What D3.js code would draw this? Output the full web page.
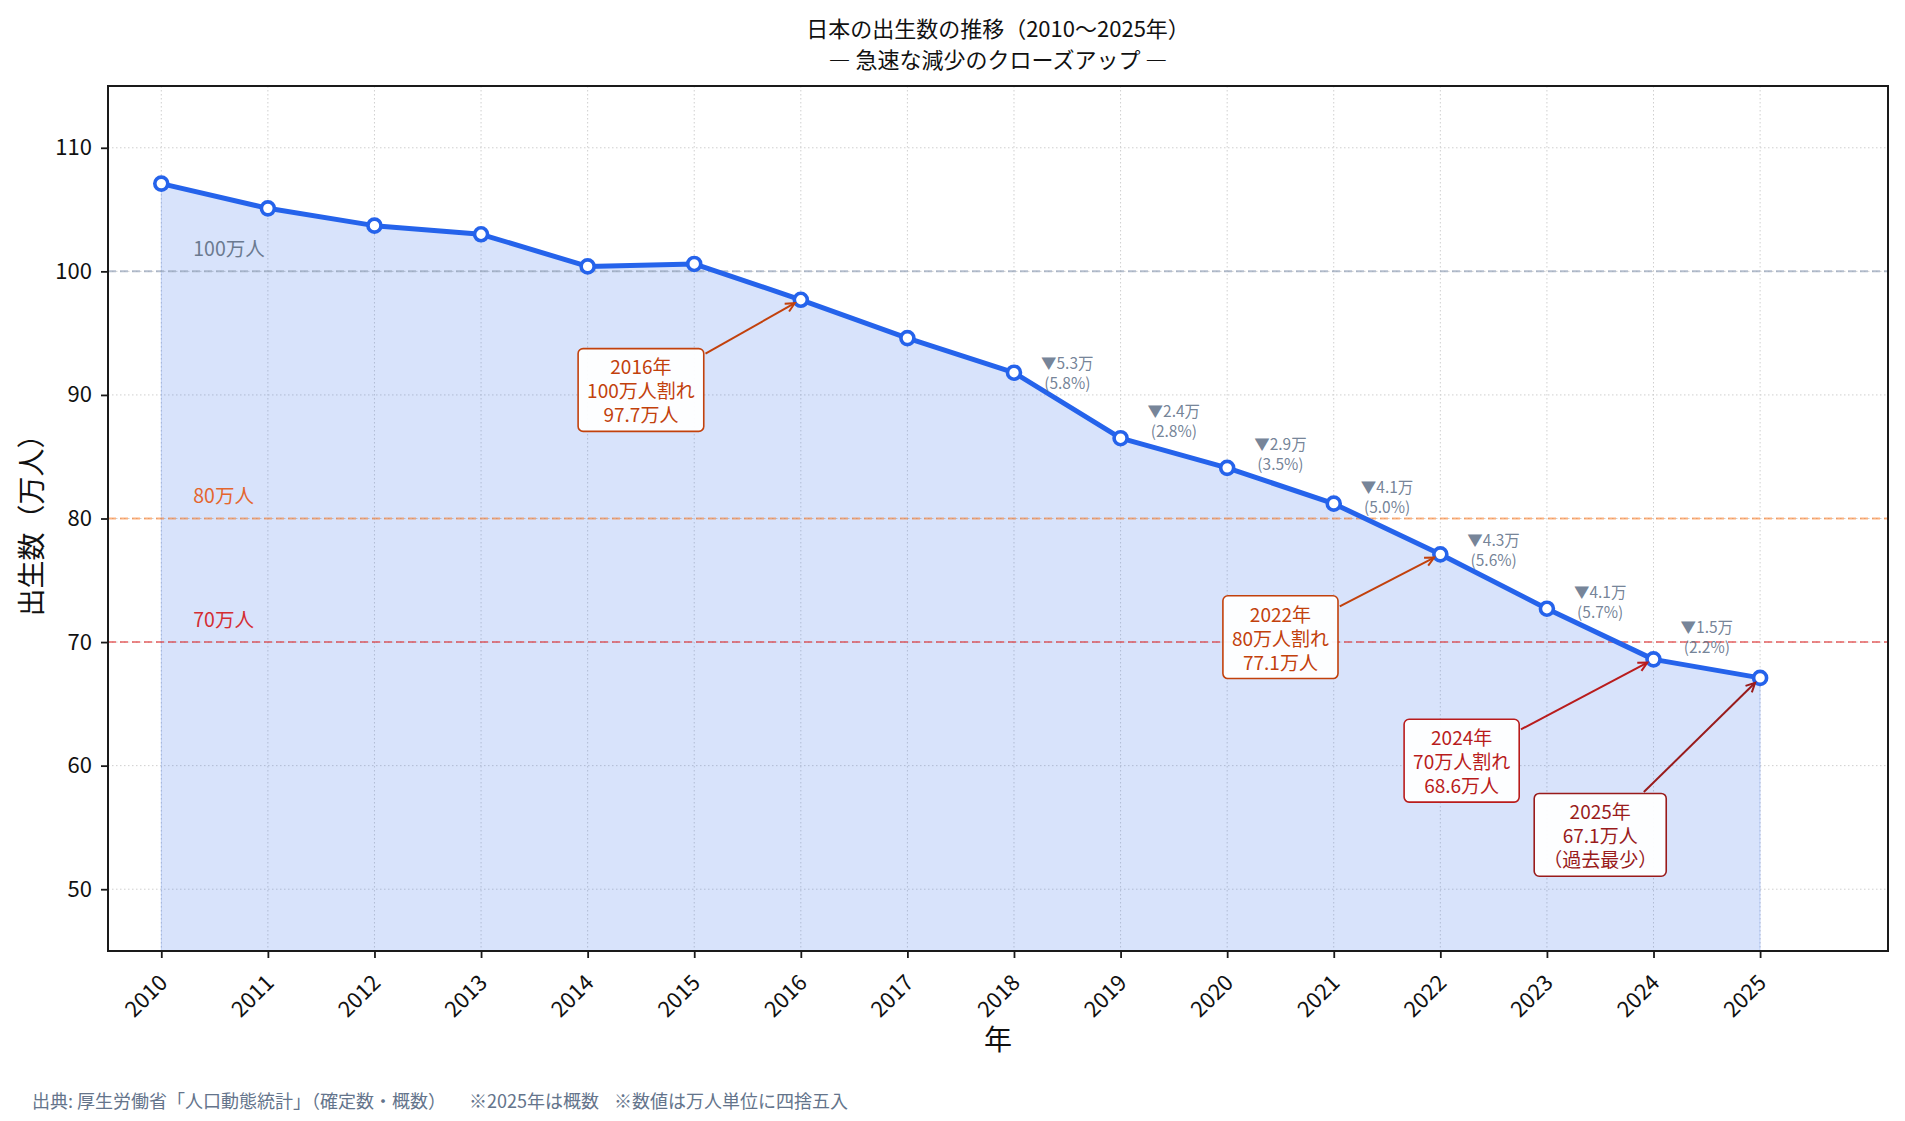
<!DOCTYPE html>
<html>
<head>
<meta charset="utf-8">
<script src="https://cdn.jsdelivr.net/npm/d3@7"></script>
<style>
  body { margin: 0; background: #fff; }
  svg { display: block; font-family: "Noto Sans CJK JP", "Noto Sans", sans-serif; }
</style>
</head>
<body>
<div id="chart"></div>
<script>
// ---- data (万人) ----
const years = [2010, 2011, 2012, 2013, 2014, 2015, 2016, 2017, 2018, 2019, 2020, 2021, 2022, 2023, 2024, 2025];
const births = [107.1, 105.1, 103.7, 103.0, 100.4, 100.6, 97.7, 94.6, 91.8, 86.5, 84.1, 81.2, 77.1, 72.7, 68.6, 67.1];
const yTicks = [50, 60, 70, 80, 90, 100, 110];

// reference thresholds
const refValues = [100, 80, 70];
const refLabels = ['100万人', '80万人', '70万人'];

// year-over-year drop labels (segment start year)
const dropYears = [2018, 2019, 2020, 2021, 2022, 2023, 2024];
const dropAmounts = ['5.3', '2.4', '2.9', '4.1', '4.3', '4.1', '1.5'];
const dropRates = ['5.8', '2.8', '3.5', '5.0', '5.6', '5.7', '2.2'];

// callouts
const calloutYears = [2016, 2022, 2024, 2025];
const calloutLines = [
    ['2016年', '100万人割れ', '97.7万人'],
    ['2022年', '80万人割れ', '77.1万人'],
    ['2024年', '70万人割れ', '68.6万人'],
    ['2025年', '67.1万人', '（過去最少）']
];

const titleLines = ['日本の出生数の推移（2010〜2025年）', '― 急速な減少のクローズアップ ―'];
const sourceNotes = ['出典: 厚生労働省「人口動態統計」（確定数・概数）', '※2025年は概数', '※数値は万人単位に四捨五入'];

// ---- styling / placement ----
const refColors = ['#94a3b8', '#f97316', '#dc2626'];
const refLabelColors = ['#6b7a90', '#e4662e', '#d42d33'];
const calloutColors = ['#c2410c', '#c2410c', '#b91c1c', '#991b1b'];
// text-box centre in data coordinates [year, value]
const calloutPos = [[2014.5, 90.4], [2020.5, 70.4], [2022.2, 60.4], [2023.5, 54.4]];
// x start of each source-note piece
const sourceNoteX = [32, 469, 614];

class BirthChart {
    constructor(_config) {
        this.config = {
            parentElement: _config.parentElement,
            containerWidth: 1905,
            containerHeight: 1121,
            margin: {top: 86, right: 17, bottom: 170, left: 108}
        };
        this.initVis();
    }

    initVis() {
        let vis = this;
        const m = vis.config.margin;
        vis.width = vis.config.containerWidth - m.left - m.right;
        vis.height = vis.config.containerHeight - m.top - m.bottom;

        vis.svg = d3.select(vis.config.parentElement).append('svg')
            .attr('width', vis.config.containerWidth)
            .attr('height', vis.config.containerHeight);

        vis.chart = vis.svg.append('g')
            .attr('transform', `translate(${m.left},${m.top})`);

        vis.xScale = d3.scaleLinear().domain([2009.5, 2026.2]).range([0, vis.width]);
        vis.yScale = d3.scaleLinear().domain([45, 115]).range([vis.height, 0]);

        vis.defs = vis.svg.append('defs');
        vis.defs.append('clipPath').attr('id', 'plot-clip')
            .append('rect').attr('width', vis.width).attr('height', vis.height);

        // arrow heads, one per colour
        Array.from(new Set(calloutColors)).forEach(c => {
            vis.defs.append('marker')
                .attr('id', 'arrow-' + c.slice(1))
                .attr('markerUnits', 'userSpaceOnUse')
                .attr('viewBox', '-12 -7 14 14')
                .attr('refX', 0).attr('refY', 0)
                .attr('markerWidth', 14).attr('markerHeight', 14)
                .attr('orient', 'auto')
                .append('path')
                .attr('d', 'M-9,-4.5 L0,0 L-9,4.5')
                .attr('fill', 'none')
                .attr('stroke', c)
                .attr('stroke-width', 2);
        });

        vis.renderVis();
    }

    renderVis() {
        let vis = this;
        const x = vis.xScale, y = vis.yScale;

        // grid
        const grid = vis.chart.append('g').attr('class', 'grid');
        grid.selectAll('.gx').data(years).join('line')
            .attr('x1', d => x(d)).attr('x2', d => x(d))
            .attr('y1', 0).attr('y2', vis.height)
            .attr('stroke', '#cfcfcf').attr('stroke-width', 1)
            .attr('stroke-dasharray', '1.5,2.5');
        grid.selectAll('.gy').data(yTicks).join('line')
            .attr('x1', 0).attr('x2', vis.width)
            .attr('y1', d => y(d)).attr('y2', d => y(d))
            .attr('stroke', '#cfcfcf').attr('stroke-width', 1)
            .attr('stroke-dasharray', '1.5,2.5');

        const series = years.map((yr, i) => ({year: yr, value: births[i]}));

        // area fill down to the bottom of the axis
        const area = d3.area()
            .x(d => x(d.year))
            .y0(y(45))
            .y1(d => y(d.value));
        vis.chart.append('path')
            .datum(series)
            .attr('d', area)
            .attr('fill', '#2563eb')
            .attr('fill-opacity', 0.18)
            .attr('stroke', '#2563eb')
            .attr('stroke-opacity', 0.2)
            .attr('stroke-width', 1);

        // threshold lines
        const refs = vis.chart.append('g').attr('clip-path', 'url(#plot-clip)');
        refs.selectAll('line').data(refValues).join('line')
            .attr('x1', 0).attr('x2', vis.width)
            .attr('y1', d => y(d)).attr('y2', d => y(d))
            .attr('stroke', (d, i) => refColors[i])
            .attr('stroke-opacity', (d, i) => i === 0 ? 0.7 : 0.55)
            .attr('stroke-width', 2)
            .attr('stroke-dasharray', '8,4');
        vis.chart.selectAll('.ref-label').data(refValues).join('text')
            .attr('class', 'ref-label')
            .attr('x', x(2010.3))
            .attr('y', d => y(d) - 24)
            .attr('dominant-baseline', 'central')
            .attr('font-size', 19.5)
            .attr('fill', (d, i) => refLabelColors[i])
            .text((d, i) => refLabels[i]);

        // main line + markers
        const line = d3.line().x(d => x(d.year)).y(d => y(d.value));
        vis.chart.append('path')
            .datum(series)
            .attr('d', line)
            .attr('fill', 'none')
            .attr('stroke', '#2563eb')
            .attr('stroke-width', 5)
            .attr('stroke-linejoin', 'round');
        vis.chart.selectAll('.pt').data(series).join('circle')
            .attr('class', 'pt')
            .attr('cx', d => x(d.year))
            .attr('cy', d => y(d.value))
            .attr('r', 6.5)
            .attr('fill', '#fff')
            .attr('stroke', '#2563eb')
            .attr('stroke-width', 3.6);

        // drop labels at segment midpoints
        const drops = vis.chart.append('g').attr('class', 'drops');
        dropYears.forEach((yr, i) => {
            const j = years.indexOf(yr);
            const mx = (x(years[j]) + x(years[j + 1])) / 2;
            const my = (y(births[j]) + y(births[j + 1])) / 2 - 33;
            const t = drops.append('text')
                .attr('text-anchor', 'middle')
                .attr('font-size', 15.5)
                .attr('fill', '#64748b')
                .attr('fill-opacity', 0.9);
            t.append('tspan').attr('x', mx).attr('y', my - 10)
                .attr('dominant-baseline', 'central')
                .text('▼' + dropAmounts[i] + '万');
            t.append('tspan').attr('x', mx).attr('y', my + 10)
                .attr('dominant-baseline', 'central')
                .text('(' + dropRates[i] + '%)');
        });

        // callouts with arrows
        const fs = 19, lh = 24, padX = 9, padY = 6;
        calloutYears.forEach((yr, i) => {
            const g = vis.chart.append('g');
            const c = calloutColors[i];
            const cx = x(calloutPos[i][0]), cy = y(calloutPos[i][1]);
            const n = calloutLines[i].length;
            const txt = g.append('text')
                .attr('text-anchor', 'middle')
                .attr('font-size', fs)
                .attr('fill', c);
            calloutLines[i].forEach((s, k) => {
                txt.append('tspan')
                    .attr('x', cx)
                    .attr('y', cy + (k - (n - 1) / 2) * lh)
                    .attr('dominant-baseline', 'central')
                    .text(s);
            });
            let maxW = 0;
            txt.selectAll('tspan').each(function () {
                maxW = Math.max(maxW, this.getComputedTextLength());
            });
            const bw = maxW + 2 * padX;
            const bh = (n - 1) * lh + fs * 1.2 + 2 * padY;
            g.insert('rect', 'text')
                .attr('x', cx - bw / 2).attr('y', cy - bh / 2)
                .attr('width', bw).attr('height', bh)
                .attr('rx', 5).attr('ry', 5)
                .attr('fill', '#fff')
                .attr('fill-opacity', 0.95)
                .attr('stroke', c)
                .attr('stroke-width', 1.6);

            // arrow from box edge to the point
            const j = years.indexOf(yr);
            const tx = x(yr), ty = y(births[j]);
            const dx = tx - cx, dy = ty - cy;
            const len = Math.hypot(dx, dy);
            const tEdge = Math.min((bw / 2) / Math.abs(dx), (bh / 2) / Math.abs(dy));
            const sx = cx + dx * tEdge + dx / len * 2;
            const sy = cy + dy * tEdge + dy / len * 2;
            const ex = tx - dx / len * 7;
            const ey = ty - dy / len * 7;
            g.append('line')
                .attr('x1', sx).attr('y1', sy)
                .attr('x2', ex).attr('y2', ey)
                .attr('stroke', c)
                .attr('stroke-width', 2)
                .attr('marker-end', `url(#arrow-${c.slice(1)})`);
        });

        // frame
        vis.chart.append('rect')
            .attr('width', vis.width).attr('height', vis.height)
            .attr('fill', 'none')
            .attr('stroke', '#1a1a1a')
            .attr('stroke-width', 2);

        // axes
        const xAxisG = vis.chart.append('g')
            .attr('transform', `translate(0,${vis.height})`)
            .call(d3.axisBottom(x).tickValues(years).tickFormat(d3.format('d')).tickSize(7).tickPadding(0));
        xAxisG.select('.domain').remove();
        xAxisG.selectAll('.tick line').attr('stroke', '#1a1a1a').attr('stroke-width', 1.8);
        xAxisG.selectAll('.tick text')
            .attr('font-family', '"Noto Sans CJK JP", sans-serif')
            .attr('font-size', 22)
            .attr('fill', '#111')
            .attr('text-anchor', 'end')
            .attr('dy', null)
            .attr('y', 0)
            .attr('transform', 'translate(7,33) rotate(-45)');

        const yAxisG = vis.chart.append('g')
            .call(d3.axisLeft(y).tickValues(yTicks).tickSize(7).tickPadding(9));
        yAxisG.select('.domain').remove();
        yAxisG.selectAll('.tick line').attr('stroke', '#1a1a1a').attr('stroke-width', 1.8);
        yAxisG.selectAll('.tick text')
            .attr('font-family', '"Noto Sans CJK JP", sans-serif')
            .attr('font-size', 22)
            .attr('fill', '#111');

        // axis titles
        vis.svg.append('text')
            .attr('x', vis.config.margin.left + vis.width / 2)
            .attr('y', 1038)
            .attr('text-anchor', 'middle')
            .attr('dominant-baseline', 'central')
            .attr('font-size', 28)
            .attr('fill', '#111')
            .text('年');
        vis.svg.append('text')
            .attr('transform', `translate(30,${vis.config.margin.top + vis.height / 2}) rotate(-90)`)
            .attr('text-anchor', 'middle')
            .attr('dominant-baseline', 'central')
            .attr('font-size', 28)
            .attr('fill', '#111')
            .text('出生数（万人）');

        // title
        titleLines.forEach((s, k) => {
            vis.svg.append('text')
                .attr('x', vis.config.margin.left + vis.width / 2)
                .attr('y', 26.5 + k * 31.5)
                .attr('text-anchor', 'middle')
                .attr('dominant-baseline', 'central')
                .attr('font-size', 22)
                .attr('fill', '#111')
                .text(s);
        });

        // source note
        vis.svg.selectAll('.note').data(sourceNotes).join('text')
            .attr('class', 'note')
            .attr('x', (d, i) => sourceNoteX[i])
            .attr('y', 1100)
            .attr('dominant-baseline', 'central')
            .attr('font-size', 18)
            .attr('fill', '#64748b')
            .text(d => d);
    }
}

new BirthChart({parentElement: '#chart'});
</script>
</body>
</html>
